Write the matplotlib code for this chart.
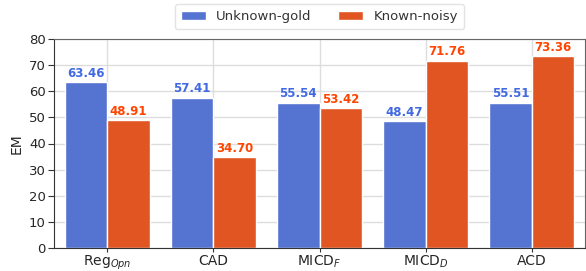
import matplotlib
matplotlib.use("Agg")
import matplotlib.pyplot as plt
import numpy as np

categories = [r"Reg$_{Opn}$", "CAD", r"MICD$_F$", r"MICD$_D$", "ACD"]
unknown_gold = [63.46, 57.41, 55.54, 48.47, 55.51]
known_noisy = [48.91, 34.70, 53.42, 71.76, 73.36]
series_names = ["Unknown-gold", "Known-noisy"]

bar_colors = ["#5573D0", "#E05522"]
text_colors = ["#4169E1", "#FF4500"]

fig = plt.figure(figsize=(5.86, 2.71), dpi=100)
ax = fig.add_axes([54/586, 1-248/271, (585-54)/586, (248-39)/271])

x = np.arange(len(categories))
w = 0.4
for i, (vals, name) in enumerate([(unknown_gold, series_names[0]), (known_noisy, series_names[1])]):
    pos = x + (i - 0.5) * w
    ax.bar(pos, vals, width=w, color=bar_colors[i], edgecolor="white", linewidth=1,
           label=name, zorder=2)
    for p, v in zip(pos, vals):
        ax.text(p, v + 1.0, f"{v:.2f}", ha="center", va="bottom", color=text_colors[i],
                fontsize=8.5, fontweight="bold", zorder=3)

ax.set_xlim(-0.5, 4.5)
ax.set_ylim(0, 80)
ax.set_yticks(range(0, 81, 10))
ax.set_xticks(x)
ax.set_xticklabels(categories, fontsize=10, color="#262626")
ax.tick_params(axis="y", labelsize=9.5, labelcolor="#262626", length=4, color="#333333", pad=2)
ax.tick_params(axis="x", length=3, pad=1, color="#333333")
ax.set_ylabel("EM", fontsize=10, color="#262626", labelpad=4)
ax.grid(True, color="#dddddd", linewidth=1, zorder=0)
ax.set_axisbelow(True)
for s in ["left", "bottom"]:
    ax.spines[s].set_color("#333333")
for s in ["top", "right"]:
    ax.spines[s].set_color("#666666")

ax.legend(loc="lower center", bbox_to_anchor=(0.5, 1.048), borderaxespad=0, ncol=2,
          fontsize=9.5, frameon=True, edgecolor="#dddddd", handlelength=1.9,
          handleheight=0.6, handletextpad=0.8, columnspacing=2.0, borderpad=0.45,
          labelcolor="#333333")

fig.savefig("out.png", dpi=100)
